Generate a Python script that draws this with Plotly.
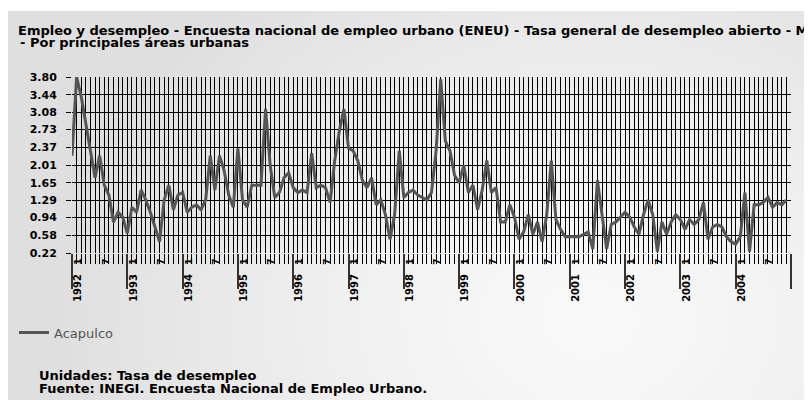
import base64
import struct
import zlib

import numpy as np
import plotly.graph_objects as go

# ---------------- data ----------------
start_year = 1992
end_year = 2004
years = list(range(start_year, end_year + 1))
month_tick_labels = ["1", "", "", "", "", "", "7", "", "", "", "", ""]

# Acapulco - tasa general de desempleo abierto (monthly, Jan 1992 - Dec 2004)
acapulco = [
    2.20, 3.80, 3.40, 2.85, 2.25, 1.75, 2.20, 1.60, 1.40, 0.85, 1.05, 0.95,   # 1992
    0.62, 1.15, 1.05, 1.50, 1.30, 1.05, 0.75, 0.45, 1.30, 1.60, 1.10, 1.40,   # 1993
    1.45, 1.05, 1.15, 1.20, 1.10, 1.30, 2.20, 1.50, 2.20, 1.90, 1.40, 1.15,   # 1994
    2.35, 1.30, 1.15, 1.60, 1.60, 1.60, 3.15, 2.00, 1.35, 1.45, 1.75, 1.85,   # 1995
    1.55, 1.45, 1.50, 1.45, 2.25, 1.55, 1.60, 1.55, 1.25, 2.10, 2.70, 3.15,   # 1996
    2.35, 2.30, 2.10, 1.70, 1.55, 1.75, 1.20, 1.30, 1.00, 0.50, 1.00, 2.30,   # 1997
    1.35, 1.45, 1.50, 1.40, 1.35, 1.30, 1.45, 2.30, 3.75, 2.50, 2.30, 1.80,   # 1998
    1.65, 2.00, 1.45, 1.60, 1.10, 1.50, 2.10, 1.45, 1.55, 0.85, 0.85, 1.20,   # 1999
    0.95, 0.50, 0.65, 1.00, 0.60, 0.85, 0.45, 1.00, 2.10, 0.90, 0.70, 0.55,   # 2000
    0.55, 0.55, 0.55, 0.60, 0.65, 0.30, 1.70, 1.00, 0.30, 0.80, 0.85, 0.95,   # 2001
    1.05, 0.95, 0.75, 0.60, 1.00, 1.30, 1.00, 0.25, 0.85, 0.60, 0.85, 1.00,   # 2002
    0.90, 0.70, 0.90, 0.80, 0.90, 1.25, 0.50, 0.75, 0.80, 0.75, 0.55, 0.45,   # 2003
    0.40, 0.55, 1.45, 0.25, 1.20, 1.20, 1.25, 1.35, 1.15, 1.25, 1.20, 1.30,   # 2004
]
y_ticks = [0.22, 0.58, 0.94, 1.29, 1.65, 2.01, 2.37, 2.73, 3.08, 3.44, 3.80]

title_line1 = ("Empleo y desempleo - Encuesta nacional de empleo urbano (ENEU) - "
               "Tasa general de desempleo abierto - Mensual")
title_line2 = "- Por principales áreas urbanas"
series_name = "Acapulco"
units_text = "Unidades: Tasa de desempleo"
source_text = "Fuente: INEGI. Encuesta Nacional de Empleo Urbano."

# ---------------- derived ----------------
n_months = len(acapulco)
month_index = list(range(n_months))
all_month_ticks = list(range(n_months + 1))
all_month_text = [month_tick_labels[i % 12] for i in month_index] + [""]
year_ticks = [12 * k for k in range(len(years) + 1)]
year_text = [str(y) for y in years] + [""]

FONT = "DejaVu Sans"
OFF = 8                      # the page body adds an 8px margin around the figure
W, H = 812 - OFF, 400 - OFF  # figure size so the page fits the window exactly
# plot area in window pixels: x 72..791, y 77..253
L, T = 72 - OFF, 77 - OFF
R, B = W - (791 - OFF), H - (253 - OFF)
PW, PH = W - L - R, H - T - B


def px_x(px):  # window pixel -> paper x
    return (px - OFF - L) / PW


def px_y(py):  # window pixel -> paper y
    return (H - B - (py - OFF)) / PH


# ---------------- soft grey background gradient (style only) ----------------
def png_data_uri(rgb):
    h, w, _ = rgb.shape
    raw = b"".join(b"\x00" + rgb[r].tobytes() for r in range(h))

    def chunk(tag, data):
        c = struct.pack(">I", len(data)) + tag + data
        return c + struct.pack(">I", zlib.crc32(tag + data) & 0xFFFFFFFF)

    png = (b"\x89PNG\r\n\x1a\n"
           + chunk(b"IHDR", struct.pack(">IIBBBBB", w, h, 8, 2, 0, 0, 0))
           + chunk(b"IDAT", zlib.compress(raw, 9))
           + chunk(b"IEND", b""))
    return "data:image/png;base64," + base64.b64encode(png).decode()


GX0, GY0, GX1, GY1 = 6, 11, 812, 400      # panel in window pixels
gw, gh = 203, 97
gx = np.linspace(GX0, GX1, gw)[None, :]
gy = np.linspace(GY0, GY1, gh)[:, None]
dist = np.sqrt(((gx - 590) / 540) ** 2 + ((gy - 320) / 430) ** 2)
shade = 249 - 26 * np.clip(dist, 0, 1) ** 1.4
grad = np.repeat(shade[:, :, None], 3, axis=2).astype(np.uint8)
bg_uri = png_data_uri(grad)

fig = go.Figure()
fig.add_trace(go.Scatter(
    x=month_index, y=acapulco, mode="lines", name=series_name,
    line=dict(color="#555555", width=3), showlegend=True,
))
# same series attached to the overlaid year axis so that axis is drawn (invisible)
fig.add_trace(go.Scatter(
    x=month_index, y=acapulco, mode="lines", xaxis="x2", opacity=0,
    line=dict(width=0), showlegend=False, hoverinfo="skip",
))

bold = dict(family=FONT, color="black", weight="bold")

fig.update_layout(
    template="none",
    width=W, height=H,
    margin=dict(l=L, r=R, t=T, b=B, autoexpand=False),
    paper_bgcolor="white",
    plot_bgcolor="rgba(0,0,0,0)",
    title=dict(text=title_line1, x=(18 - OFF) / W, xanchor="left", xref="container",
               y=1 - (30 - OFF) / H, yanchor="middle", yref="container",
               font=dict(size=13, **bold)),
    xaxis=dict(
        range=[0, n_months], tickmode="array", tickvals=all_month_ticks, ticktext=all_month_text,
        showgrid=True, gridcolor="black", gridwidth=1, zeroline=False, showline=False,
        ticks="outside", ticklen=10, tickcolor="black", tickwidth=1, tickangle=-90,
        tickfont=dict(size=9, **bold),
        ticklabelstandoff=-9, ticklabelshift=6,
    ),
    xaxis2=dict(
        overlaying="x", matches="x", side="bottom", anchor="y",
        tickmode="array", tickvals=year_ticks, ticktext=year_text,
        showgrid=False, zeroline=False, showline=False,
        ticks="outside", ticklen=35, tickcolor="#333333", tickwidth=1.5, tickangle=-90,
        tickfont=dict(size=10, **bold),
        ticklabelstandoff=-19, ticklabelshift=6,
    ),
    yaxis=dict(
        range=[y_ticks[0], y_ticks[-1]], tickmode="array", tickvals=y_ticks,
        ticktext=[f"{v:.2f}" for v in y_ticks],
        showgrid=True, gridcolor="black", gridwidth=1, zeroline=False, showline=False,
        ticks="outside", ticklen=5, tickcolor="black",
        tickfont=dict(size=11, **bold), ticklabelstandoff=7,
    ),
    showlegend=True,
    legend=dict(x=px_x(14), xanchor="left", y=px_y(332.5), yanchor="middle",
                bgcolor="rgba(0,0,0,0)", font=dict(family=FONT, size=13, color="#555555")),
    images=[dict(source=bg_uri, xref="paper", yref="paper", layer="below",
                 x=px_x(GX0), y=px_y(GY0), sizex=px_x(GX1) - px_x(GX0),
                 sizey=px_y(GY0) - px_y(GY1), xanchor="left", yanchor="top",
                 sizing="stretch")],
    annotations=[
        dict(text=title_line2, xref="paper", yref="paper", x=px_x(18), xanchor="left",
             y=px_y(42.5), yanchor="middle", showarrow=False, font=dict(size=13, **bold)),
        dict(text=units_text, xref="paper", yref="paper", x=px_x(37), xanchor="left",
             y=px_y(375), yanchor="middle", showarrow=False, font=dict(size=13, **bold)),
        dict(text=source_text, xref="paper", yref="paper", x=px_x(37), xanchor="left",
             y=px_y(388), yanchor="middle", showarrow=False, font=dict(size=13, **bold)),
    ],
)

fig.write_html("out.html")
